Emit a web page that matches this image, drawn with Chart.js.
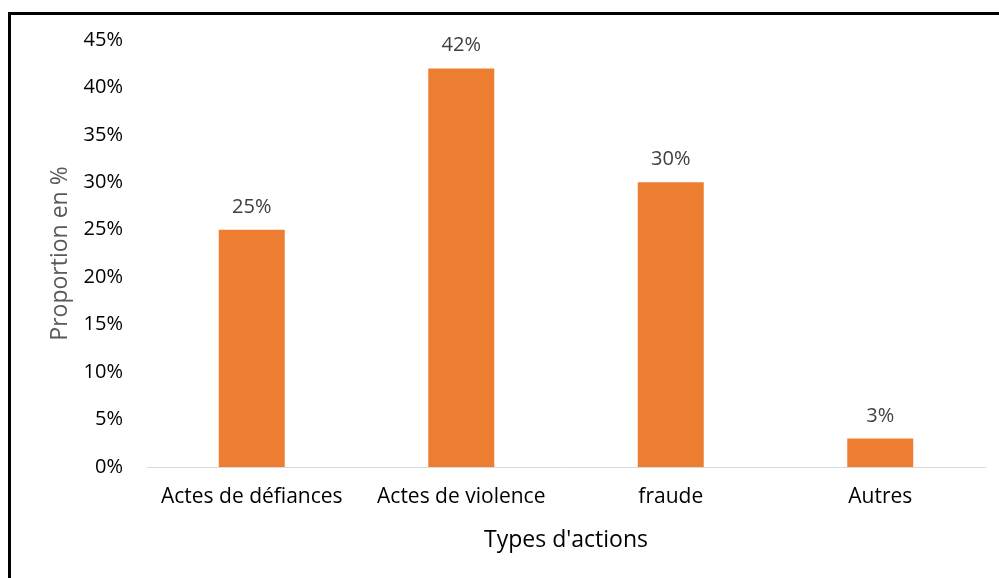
<!DOCTYPE html>
<html>
<head>
<meta charset="utf-8">
<script src="https://cdn.jsdelivr.net/npm/chart.js@4/dist/chart.umd.min.js"></script>
<style>
  html, body { margin: 0; padding: 0; background: #fff; overflow: hidden; }
  #wrap { position: relative; width: 999px; height: 578px; }
  #frame { position: absolute; left: 8px; top: 12px; width: 1100px; height: 700px; border: 3px solid #000; box-sizing: border-box; pointer-events: none; }
  canvas { position: absolute; left: 0; top: 0; }
</style>
</head>
<body>
<div id="wrap">
  <canvas id="chart" width="999" height="578"></canvas>
  <div id="frame"></div>
</div>
<script>
const categories = ["Actes de défiances", "Actes de violence", "fraude", "Autres"]
const values = [25, 42, 30, 3]
const yTicks = [0, 5, 10, 15, 20, 25, 30, 35, 40, 45]

const FONT = "'Open Sans', sans-serif"

// draws the value above each bar, like Excel data labels
const barLabels = {
  id: "barLabels",
  afterDatasetsDraw(chart) {
    const { ctx } = chart
    const meta = chart.getDatasetMeta(0)
    ctx.save()
    ctx.font = `20px ${FONT}`
    ctx.fillStyle = "#404040"
    ctx.textAlign = "center"
    ctx.textBaseline = "alphabetic"
    meta.data.forEach((bar, i) => {
      ctx.fillText(values[i] + "%", bar.x, bar.y - 17)
    })
    ctx.restore()
  }
}

new Chart(document.getElementById("chart"), {
  type: "bar",
  data: {
    labels: categories,
    datasets: [{
      data: values,
      backgroundColor: "#ED7D31",
      categoryPercentage: 1,
      barPercentage: 0.315
    }]
  },
  options: {
    responsive: false,
    animation: false,
    events: [],
    layout: { padding: { left: 0, right: 14, top: 40, bottom: 0 } },
    plugins: { legend: { display: false }, tooltip: { enabled: false } },
    scales: {
      x: {
        grid: { display: false, drawTicks: false },
        border: { color: "#d9d9d9", width: 1 },
        ticks: { color: "#000", font: { family: FONT, size: 21 }, padding: 17, maxRotation: 0 },
        // bottom titles are placed from padding.bottom
        title: { display: true, text: "Types d'actions", color: "#000", font: { family: FONT, size: 23 }, padding: { top: 0, bottom: 24 } },
        afterFit(scale) { scale.height = 111 }
      },
      y: {
        min: 0,
        max: 45,
        afterBuildTicks(scale) { scale.ticks = yTicks.map(v => ({ value: v })) },
        grid: { display: false, drawTicks: false },
        border: { display: false },
        ticks: { color: "#000", font: { family: FONT, size: 20 }, padding: 24, callback: v => v + "%" },
        title: { display: true, text: "Proportion en %", color: "#595959", font: { family: FONT, size: 23 }, padding: { top: 47, bottom: 0 } },
        afterFit(scale) { scale.width = 147 }
      }
    }
  },
  plugins: [barLabels]
})
</script>
</body>
</html>
